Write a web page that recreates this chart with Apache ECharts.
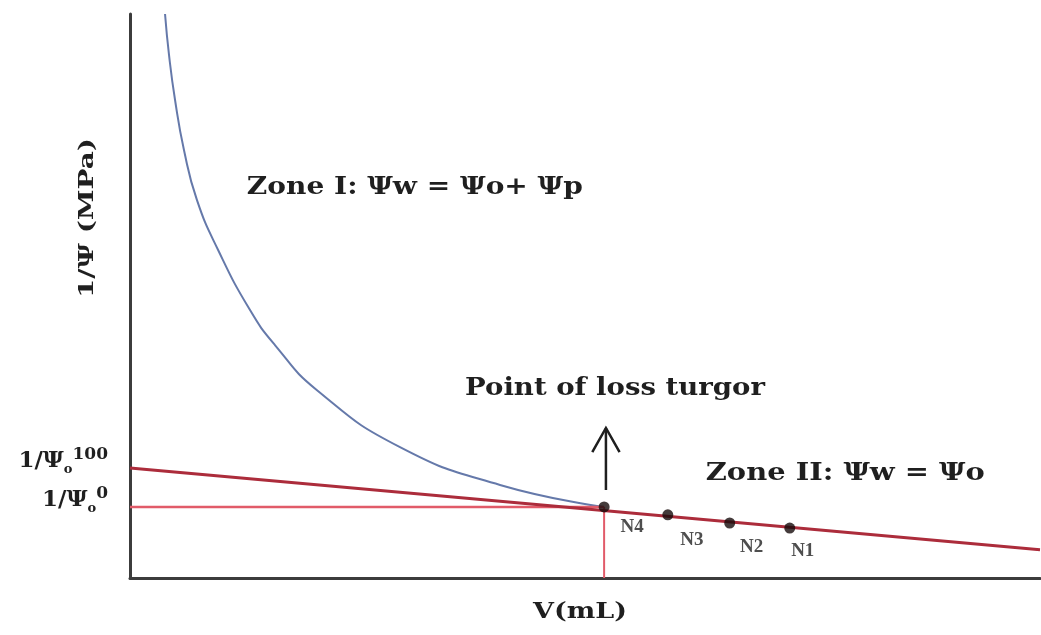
<!DOCTYPE html>
<html>
<head>
<meta charset="utf-8">
<script src="https://cdn.jsdelivr.net/npm/echarts@6/dist/echarts.min.js"></script>
<style>
  html, body { margin: 0; padding: 0; background: #fff; }
  #chart { width: 1041px; height: 635px; }
</style>
</head>
<body>
<div id="chart"></div>
<script>
// Pressure–volume curve: relative volume (x) against inverse water potential (y)
const curveVolume = [3.85, 4.29, 4.95, 5.93, 7.36, 9.67, 13.19, 15.93, 20.55, 29.67, 40.66, 52.09];
const curveInvPsi = [100, 92.7, 84.75, 75.9, 67.0, 58.2, 47.5, 41.3, 33.3, 23.2, 16.5, 12.6];

// Linear osmotic segment (Zone II), extended back to the y axis
const lineVolume = [0, 100];
const lineInvPsi = [19.5, 5.0];

// Measured points
const pointNames = ['N4', 'N3', 'N2', 'N1'];
const pointVolume = [52.1, 59.1, 65.9, 72.5];
const pointInvPsi = [12.6, 11.2, 9.75, 8.85];

// Turgor loss point and the intercept of the osmotic line
const turgorVolume = 52.1;
const turgorInvPsi = 12.6;
const interceptInvPsi = 19.5;

// Arrow pointing at the turgor loss point
const arrowVolume = 52.3;
const arrowBase = 15.6;
const arrowTip = 26.6;

const pairs = (xs, ys) => xs.map((x, i) => [x, ys[i]]);

const SERIF = '"DejaVu Serif", "Liberation Serif", serif';
const INK = '#1f1f1f';

const chart = echarts.init(document.getElementById('chart'));

// Label offsets for N1..N4 (pixels from the dot centre)
const nLabelOffsets = [[28, 20], [24, 25], [22, 24], [13, 23]];

const option = {
  animation: false,
  backgroundColor: '#ffffff',
  grid: { left: 130, right: 1, top: 14, bottom: 57 },
  xAxis: {
    type: 'value', min: 0, max: 100,
    axisLine: { show: true, lineStyle: { color: '#3c3c3c', width: 3 } },
    axisTick: { show: false }, axisLabel: { show: false }, splitLine: { show: false }
  },
  yAxis: {
    type: 'value', min: 0, max: 100,
    axisLine: { show: true, onZero: false, lineStyle: { color: '#3c3c3c', width: 3 } },
    axisTick: { show: false }, splitLine: { show: false },
    axisLabel: {
      show: true,
      customValues: [turgorInvPsi, interceptInvPsi],
      margin: 22,
      padding: [0, 0, 14, 0],
      formatter: v => v === interceptInvPsi ? '{m|1/Ψ}{s|o}{p|100}' : '{m|1/Ψ}{s|o}{p|0}',
      rich: {
        m: { fontFamily: SERIF, fontWeight: 'bold', fontSize: 23, color: INK, lineHeight: 30, verticalAlign: 'middle' },
        s: { fontFamily: SERIF, fontWeight: 'bold', fontSize: 13, color: INK, verticalAlign: 'bottom', lineHeight: 30 },
        p: { fontFamily: SERIF, fontWeight: 'bold', fontSize: 17, color: INK, verticalAlign: 'top', lineHeight: 30 }
      }
    }
  },
  series: [
    {
      name: 'curve', type: 'line', data: pairs(curveVolume, curveInvPsi),
      smooth: 0.5, showSymbol: false, z: 2,
      lineStyle: { color: '#6579aa', width: 2 }
    },
    {
      name: 'tlp-h', type: 'line', data: [[0, turgorInvPsi], [turgorVolume, turgorInvPsi]],
      showSymbol: false, z: 3, lineStyle: { color: '#e15b69', width: 2.5 }
    },
    {
      name: 'tlp-v', type: 'line', data: [[turgorVolume, 0], [turgorVolume, turgorInvPsi]],
      showSymbol: false, z: 3, lineStyle: { color: '#e15b69', width: 2 }
    },
    {
      name: 'osmotic', type: 'line', data: pairs(lineVolume, lineInvPsi),
      showSymbol: false, z: 4, lineStyle: { color: '#ac2c3b', width: 3 }
    },
    {
      name: 'arrow-shaft', type: 'line', data: [[arrowVolume, arrowBase], [arrowVolume, arrowTip]],
      showSymbol: false, z: 5, lineStyle: { color: INK, width: 2.5 }
    },
    {
      name: 'arrow-head', type: 'line',
      data: [[arrowVolume - 1.5, arrowTip - 4.3], [arrowVolume, arrowTip], [arrowVolume + 1.5, arrowTip - 4.3]],
      showSymbol: false, z: 5, lineStyle: { color: INK, width: 2.5, join: 'miter' }
    },
    {
      name: 'points', type: 'scatter', z: 6, symbolSize: 11,
      itemStyle: { color: '#150a0a' },
      data: pointVolume.map((x, i) => ({
        value: [x, pointInvPsi[i]],
        name: pointNames[i],
        label: { offset: nLabelOffsets[i] }
      })),
      label: {
        show: true, position: 'inside', formatter: p => p.name,
        fontFamily: '"Liberation Serif", serif', fontWeight: 'bold', fontSize: 19, color: '#222222'
      }
    }
  ]
};

chart.setOption(option);

// Annotation texts, horizontally stretched to the wide serif face
const measureCtx = document.createElement('canvas').getContext('2d');
function stretchFor(text, font, width) {
  measureCtx.font = font;
  return width / measureCtx.measureText(text).width;
}

function annot(text, size, width, px, py, rotation) {
  const font = 'bold ' + size + 'px ' + SERIF;
  return {
    type: 'text', x: px, y: py, rotation: rotation || 0,
    scaleX: stretchFor(text, font, width), z: 20,
    style: { text: text, font: font, fill: INK, align: 'center', verticalAlign: 'middle' }
  };
}

const at = (x, y) => chart.convertToPixel({ gridIndex: 0 }, [x, y]);
const zone1 = at(31.3, 69.3);
const turgorText = at(53.3, 33.5);
const zone2 = at(78.6, 18.6);

chart.setOption({
  graphic: [
    annot('Zone I: Ψw = Ψo+ Ψp', 25, 336, zone1[0], zone1[1]),
    annot('Point of loss turgor', 24, 300, turgorText[0], turgorText[1]),
    annot('Zone II: Ψw = Ψo', 25, 279, zone2[0], zone2[1]),
    annot('V(mL)', 23, 94, 580, 612),
    annot('1/Ψ (MPa)', 21, 160, 88, 218, Math.PI / 2)
  ]
});
</script>
</body>
</html>
